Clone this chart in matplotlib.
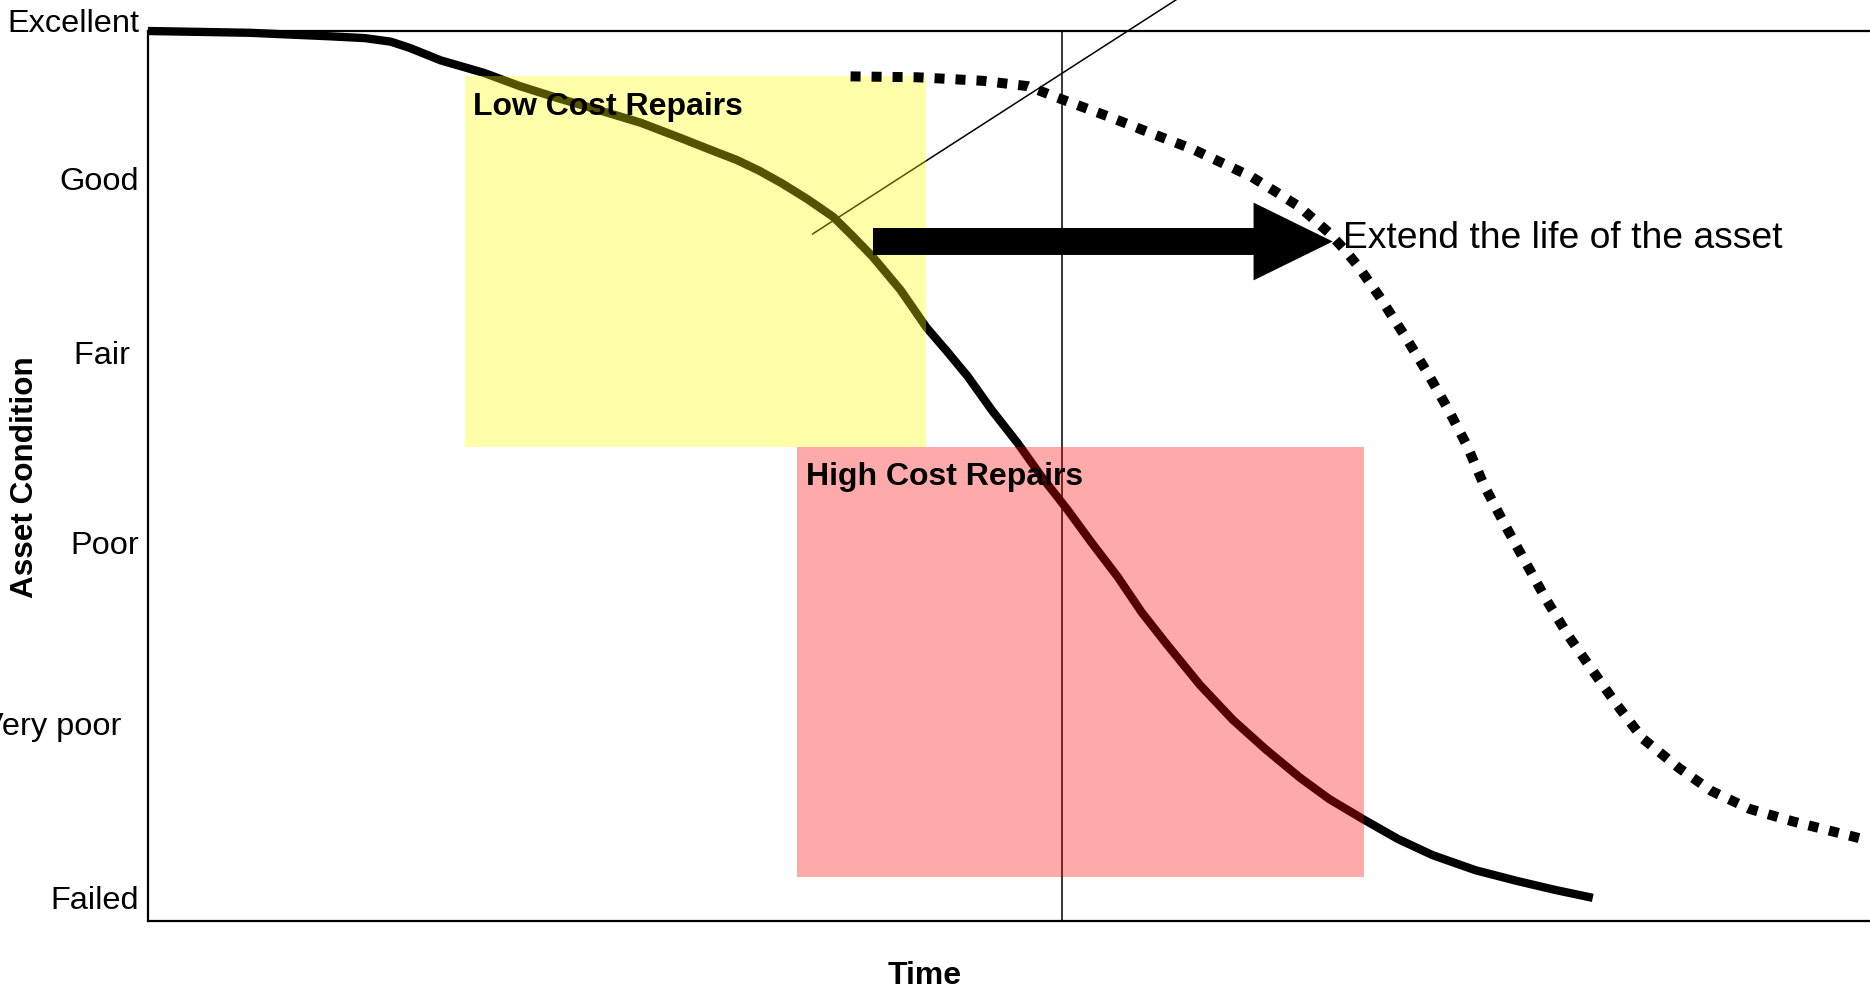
import matplotlib
matplotlib.use("Agg")
import matplotlib.pyplot as plt
from matplotlib.patches import Rectangle, FancyArrowPatch, ArrowStyle

plt.rcParams['font.family'] = ['Liberation Sans', 'DejaVu Sans']

# condition scale: 0 = failed, 100 = excellent; time runs 0..100
level_labels = ["Excellent", "Good", "Fair ", "Poor", "Very poor  ", "Failed"]
level_values = [99.9, 82.1, 62.6, 41.2, 20.9, 1.35]

# deterioration without maintenance (solid)
time_base = [0.0, 5.9, 10.6, 12.6, 14.1, 15.2, 17.0, 19.5, 21.6, 23.9, 26.2,
             28.6, 30.9, 32.6, 34.2, 35.5, 36.8, 38.3, 39.8, 40.9, 42.1, 43.7,
             45.2, 46.4, 47.6, 49.0, 50.5, 51.9, 53.4, 54.8, 56.3, 57.7, 59.2,
             61.1, 63.0, 64.9, 66.9, 68.6, 70.6, 72.6, 74.6, 77.1, 79.5, 81.7,
             83.9]
cond_base = [100.0, 99.8, 99.4, 99.2, 98.8, 98.1, 96.7, 95.3, 93.8, 92.4, 91.1,
             89.7, 88.0, 86.7, 85.5, 84.3, 82.9, 81.1, 79.1, 77.0, 74.6, 70.9,
             66.7, 64.0, 61.2, 57.4, 53.7, 49.9, 46.2, 42.5, 38.7, 34.7, 31.0,
             26.5, 22.6, 19.3, 16.1, 13.7, 11.4, 9.2, 7.4, 5.7, 4.5, 3.5,
             2.6]

# deterioration with timely repairs (dotted)
time_ext = [40.8, 44.7, 48.5, 51.1, 53.1, 55.9, 58.0, 60.7, 64.1, 65.6, 66.9,
            68.6, 69.5, 70.3, 71.5, 73.0, 74.3, 75.5, 76.6, 77.6, 78.8, 80.0,
            81.2, 82.5, 83.9, 85.3, 86.8, 88.9, 90.8, 93.0, 95.5, 99.4]
cond_ext = [94.9, 94.8, 94.4, 93.8, 92.3, 90.3, 88.7, 86.7, 83.6, 81.8, 80.2,
            77.3, 75.4, 73.5, 70.2, 65.7, 61.6, 57.5, 53.4, 48.9, 44.5, 40.3,
            36.1, 32.0, 28.1, 24.3, 20.5, 17.2, 14.6, 12.6, 11.2, 9.3]

# repair zones: (time start, time end, condition low, condition high)
low_cost = (18.4, 45.2, 53.3, 94.9)
high_cost = (37.7, 70.6, 4.9, 53.3)

fig = plt.figure(figsize=(18.7, 9.88), dpi=100)
ax = fig.add_axes([148 / 1870, 67 / 988, 1722 / 1870, 890 / 988])
ax.set_xlim(0, 100)
ax.set_ylim(0, 100)
ax.set_xticks([])
ax.set_yticks([])
ax.spines['right'].set_visible(False)
for s in ['left', 'top', 'bottom']:
    ax.spines[s].set_linewidth(1.6)

ax.plot(time_base, cond_base, color='black', lw=6, solid_capstyle='butt',
        solid_joinstyle='round', clip_on=False, zorder=2)
ax.axvline(53.1, color='black', lw=1.1, zorder=2)
ax.plot([38.6, 59.7], [77.2, 103.5], color='black', lw=1.1, clip_on=False, zorder=2)

ax.add_patch(Rectangle((low_cost[0], low_cost[2]), low_cost[1] - low_cost[0],
                       low_cost[3] - low_cost[2], facecolor=(1, 1, 0, 1 / 3),
                       edgecolor='none', zorder=3))
ax.add_patch(Rectangle((high_cost[0], high_cost[2]), high_cost[1] - high_cost[0],
                       high_cost[3] - high_cost[2], facecolor=(1, 0, 0, 1 / 3),
                       edgecolor='none', zorder=3))

ax.plot(time_ext, cond_ext, color='black', lw=7.2, linestyle=(0, (1, 1.1)),
        dash_capstyle='butt', zorder=4)

style = ArrowStyle.Simple(head_length=57, head_width=56, tail_width=19.4)
ax.add_patch(FancyArrowPatch((42.1, 76.35), (68.8, 76.35), arrowstyle=style,
                             mutation_scale=1, color='black', lw=0,
                             shrinkA=0, shrinkB=0, zorder=5))

ax.text(18.9, 90.6, "Low Cost Repairs", fontsize=23, fontweight='bold',
        va='baseline', ha='left', zorder=6)
ax.text(38.2, 49.0, "High Cost Repairs", fontsize=23, fontweight='bold',
        va='baseline', ha='left', zorder=6)
ax.text(69.4, 75.6, "Extend the life of the asset", fontsize=26.8,
        va='baseline', ha='left', zorder=6)

for lab, val in zip(level_labels, level_values):
    ax.text(-0.0052, val, lab, transform=ax.get_yaxis_transform(), fontsize=23.4,
            ha='right', va='baseline', clip_on=False)

fig.text(25 / 1870, 1 - 477 / 988, "Asset Condition", rotation=90, fontsize=22.7,
         fontweight='bold', ha='center', va='center')
fig.text(925 / 1870, 1 - 976 / 988, "Time", fontsize=23, fontweight='bold',
         ha='center', va='center')

fig.savefig("out.png", dpi=100)
